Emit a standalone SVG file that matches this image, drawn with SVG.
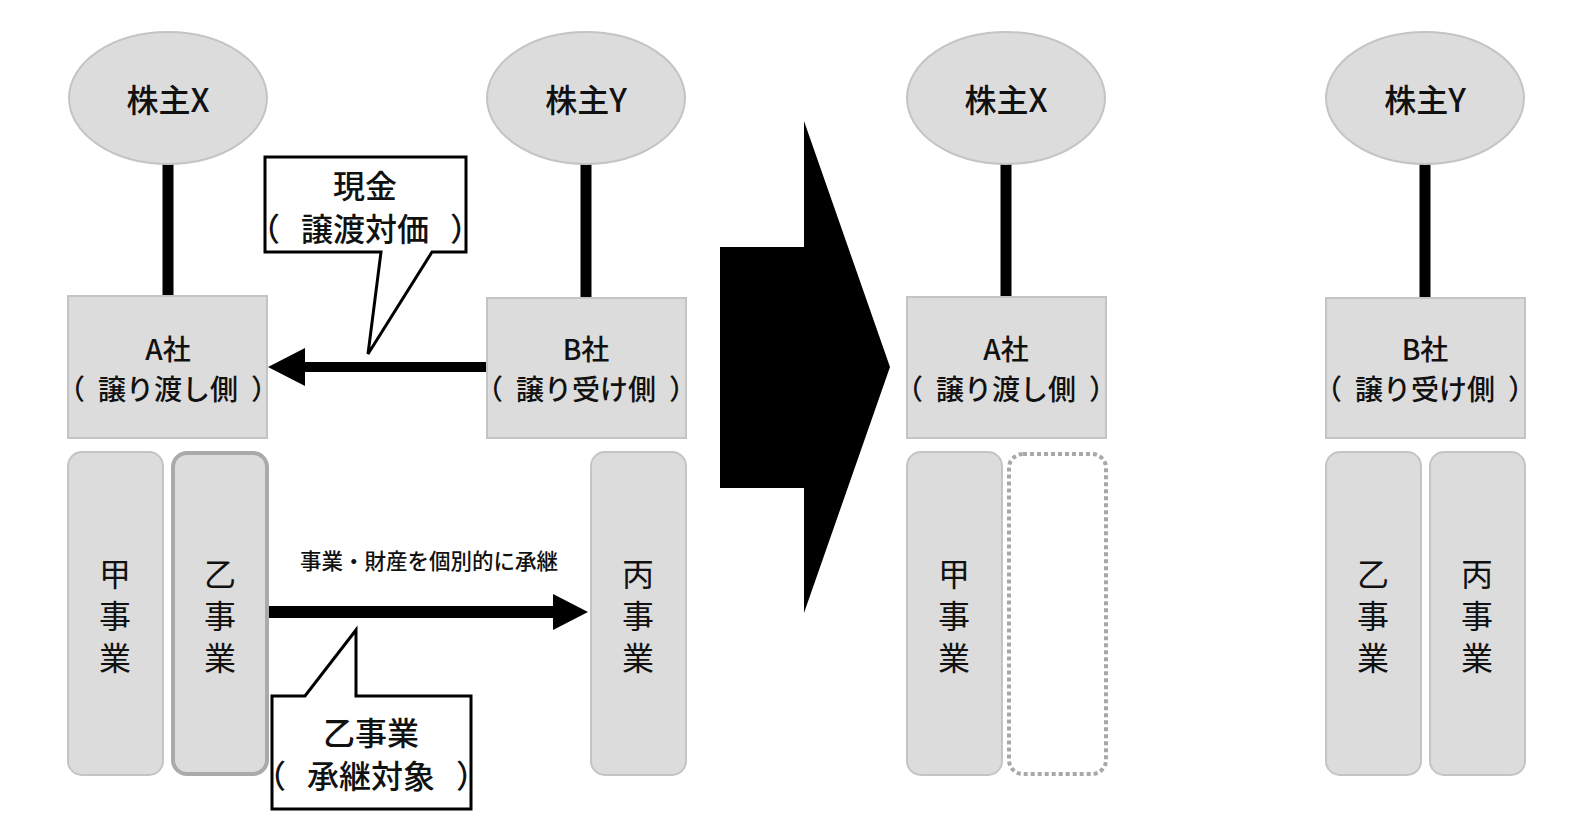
<svg xmlns="http://www.w3.org/2000/svg" width="1582" height="834" viewBox="0 0 1582 834">
<style>
text{font-family:"Noto Sans CJK JP","Liberation Sans",sans-serif;fill:#111;text-anchor:middle;font-weight:500}
.e{font-size:32px}
.t{font-size:28px}
.c{font-size:32px}
.v{font-size:32px;font-weight:400}
.s{font-size:21.5px}
.po{text-anchor:end}
.pc{text-anchor:start}
.sh{fill:#dcdcdc;stroke:#c4c4c4;stroke-width:2}
.biz{fill:#dcdcdc;stroke:#c4c4c4;stroke-width:2}
.link{stroke:#000;stroke-width:11}
.call{fill:#fff;stroke:#000;stroke-width:3;stroke-linejoin:miter}
</style>
<defs>
<marker id="ah1" markerUnits="userSpaceOnUse" markerWidth="40" markerHeight="40" refX="0" refY="19" orient="auto" overflow="visible">
<polygon points="0,0 37,19 0,38" fill="#000"/>
</marker>
<marker id="ah2" markerUnits="userSpaceOnUse" markerWidth="40" markerHeight="40" refX="0" refY="18" orient="auto" overflow="visible">
<polygon points="0,0 35,18 0,36" fill="#000"/>
</marker>
</defs>
<g id="connectors">
<line class="link" x1="168" y1="162" x2="168" y2="297"/>
<line class="link" x1="586" y1="162" x2="586" y2="298"/>
<line class="link" x1="1006" y1="162" x2="1006" y2="297"/>
<line class="link" x1="1425" y1="162" x2="1425" y2="298"/>
<line id="cash-arrow" x1="487" y1="367" x2="305" y2="367" stroke="#000" stroke-width="10" marker-end="url(#ah1)"/>
<line id="biz-arrow" x1="269" y1="612" x2="553" y2="612" stroke="#000" stroke-width="12" marker-end="url(#ah2)"/>
</g>
<g id="shareholderX1"><ellipse class="sh" cx="168" cy="98" rx="99" ry="66"/><text class="e" x="168" y="112">株主X</text></g>
<g id="shareholderY1"><ellipse class="sh" cx="586" cy="98" rx="99" ry="66"/><text class="e" x="586" y="112">株主Y</text></g>
<g id="companyA1"><rect class="sh" x="68" y="296" width="199" height="142"/><text class="t" x="168" y="360">A社</text>
<text class="t po" x="85" y="400">（</text><text class="t" x="168" y="400">譲り渡し側</text><text class="t pc" x="251" y="400">）</text></g>
<g id="companyB1"><rect class="sh" x="487" y="298" width="199" height="140"/><text class="t" x="586" y="360">B社</text>
<text class="t po" x="503" y="400">（</text><text class="t" x="586" y="400">譲り受け側</text><text class="t pc" x="669" y="400">）</text></g>
<g id="kou1"><rect class="biz" x="68" y="452" width="95" height="323" rx="14"/><text class="v" x="115" y="586">甲</text><text class="v" x="115" y="628">事</text><text class="v" x="115" y="670">業</text></g>
<g id="otsu1"><rect x="173" y="453" width="94" height="321" rx="14" fill="#dcdcdc" stroke="#aaaaaa" stroke-width="4"/><text class="v" x="220" y="586">乙</text><text class="v" x="220" y="628">事</text><text class="v" x="220" y="670">業</text></g>
<g id="hei1"><rect class="biz" x="591" y="452" width="95" height="323" rx="14"/><text class="v" x="638" y="586">丙</text><text class="v" x="638" y="628">事</text><text class="v" x="638" y="670">業</text></g>
<g id="label-transfer"><text class="s" x="429" y="569">事業・財産を個別的に承継</text></g>
<g id="callout-cash">
<path class="call" d="M265,157 L466,157 L466,252 L432,252 L368,354 L381,252 L265,252 Z"/>
<text class="c" x="365" y="198">現金</text>
<text class="c po" x="280" y="241">（</text><text class="c" x="365" y="241">譲渡対価</text><text class="c pc" x="450" y="241">）</text>
</g>
<g id="callout-otsu">
<path class="call" d="M272,809 L471,809 L471,696 L356,696 L356,630 L305,696 L272,696 Z"/>
<text class="c" x="371" y="745">乙事業</text>
<text class="c po" x="286" y="788">（</text><text class="c" x="371" y="788">承継対象</text><text class="c pc" x="456" y="788">）</text>
</g>
<g id="big-arrow"><polygon points="720,247 804,247 804,121 890,367 804,613 804,488 720,488" fill="#000"/></g>
<g id="shareholderX2"><ellipse class="sh" cx="1006" cy="98" rx="99" ry="66"/><text class="e" x="1006" y="112">株主X</text></g>
<g id="companyA2"><rect class="sh" x="907" y="297" width="199" height="141"/><text class="t" x="1006" y="360">A社</text>
<text class="t po" x="923" y="400">（</text><text class="t" x="1006" y="400">譲り渡し側</text><text class="t pc" x="1089" y="400">）</text></g>
<g id="kou2"><rect class="biz" x="907" y="452" width="95" height="323" rx="14"/><text class="v" x="954" y="586">甲</text><text class="v" x="954" y="628">事</text><text class="v" x="954" y="670">業</text></g>
<g id="empty2"><rect x="1009" y="454" width="97" height="320" rx="14" fill="none" stroke="#a8a8a8" stroke-width="4" stroke-dasharray="4,3"/></g>
<g id="shareholderY2"><ellipse class="sh" cx="1425" cy="98" rx="99" ry="66"/><text class="e" x="1425" y="112">株主Y</text></g>
<g id="companyB2"><rect class="sh" x="1326" y="298" width="199" height="140"/><text class="t" x="1425" y="360">B社</text>
<text class="t po" x="1342" y="400">（</text><text class="t" x="1425" y="400">譲り受け側</text><text class="t pc" x="1508" y="400">）</text></g>
<g id="otsu2"><rect class="biz" x="1326" y="452" width="95" height="323" rx="14"/><text class="v" x="1373" y="586">乙</text><text class="v" x="1373" y="628">事</text><text class="v" x="1373" y="670">業</text></g>
<g id="hei2"><rect class="biz" x="1430" y="452" width="95" height="323" rx="14"/><text class="v" x="1477" y="586">丙</text><text class="v" x="1477" y="628">事</text><text class="v" x="1477" y="670">業</text></g>
</svg>
